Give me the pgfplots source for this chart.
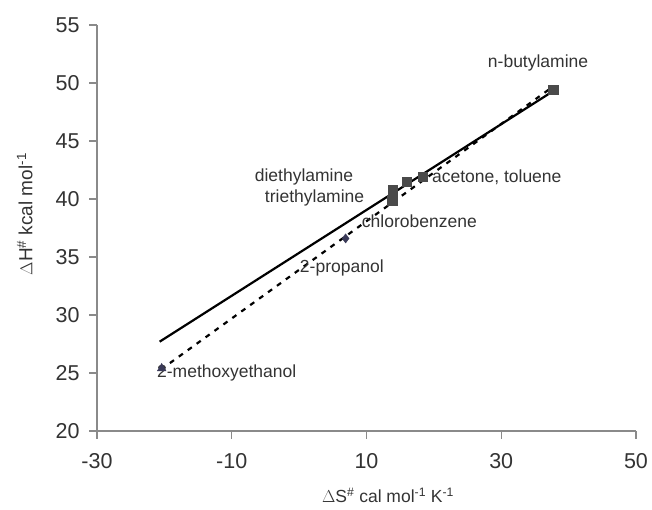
\documentclass[border=0pt]{standalone}
\usepackage{fontspec}
\setmainfont{Liberation Sans}
\usepackage{pgfplots}
\pgfplotsset{compat=1.18}
\definecolor{axgray}{HTML}{8A8A8A}
\definecolor{sqgray}{HTML}{4A4A4A}
\definecolor{dmd}{HTML}{3A3A58}
\definecolor{txt}{HTML}{333333}
\begin{document}
\begin{tikzpicture}[x=1pt,y=1pt]
\useasboundingbox (0,0) rectangle (652,510);
\begin{axis}[
  at={(97pt,79pt)}, anchor=south west,
  scale only axis, width=539pt, height=406pt,
  xmin=-30, xmax=50, ymin=20, ymax=55,
  axis lines=left, axis line style={-, axgray, line width=1.3pt},
  separate axis lines,
  xtick={-30,-10,10,30,50}, ytick={20,25,...,55},
  tick align=outside, major tick length=8pt,
  tick style={axgray, line width=1.2pt},
  /pgf/number format/assume math mode=true,
  ticklabel style={font=\fontsize{21.5}{21.5}\selectfont, text=txt},
  xticklabel style={yshift=-11pt},
  yticklabel style={xshift=-6pt},
  xlabel={$\Delta$S\textsuperscript{\#} cal mol\textsuperscript{-1} K\textsuperscript{-1}},
  ylabel={$\Delta$H\textsuperscript{\#} kcal mol\textsuperscript{-1}},
  xlabel style={font=\fontsize{17.5}{17.5}\selectfont, text=txt, at={(axis description cs:0.54,-0.158)}, anchor=center},
  ylabel style={font=\fontsize{19}{19}\selectfont, text=txt, at={(axis description cs:-0.134,0.534)}, anchor=center, rotate=0},
  clip=false,
]
% trend lines
\addplot[black, line width=2.2pt, no marks] coordinates {(-20.7,27.7) (37.7,49.3)};
\addplot[black, line width=2.2pt, dash pattern=on 5pt off 6pt, no marks] coordinates {(-20.5,25.3) (37.7,49.7)};
% data points
\addplot[only marks, mark=square*, mark size=4.6pt, color=sqgray] coordinates {
  (13.8,39.9) (13.9,40.8) (16.0,41.5) (18.4,41.9) (37.7,49.4)};
\addplot[only marks, mark=diamond*, mark size=4.6pt, color=dmd] coordinates {(6.9,36.6)};
\addplot[only marks, mark=triangle*, mark size=5pt, color=dmd] coordinates {(-20.4,25.4)};
% labels
\begin{scope}[every node/.style={font=\fontsize{17.5}{17.5}\selectfont, text=txt, anchor=west, inner sep=0pt}]
\node at (axis cs:28.0,51.7) {n-butylamine};
\node at (axis cs:-6.6,41.9) {diethylamine};
\node at (axis cs:-5.1,40.1) {triethylamine};
\node at (axis cs:19.7,41.9) {acetone, toluene};
\node at (axis cs:9.3,38.1) {chlorobenzene};
\node at (axis cs:0.1,34.05) {2-propanol};
\node at (axis cs:-21.1,25.0) {2-methoxyethanol};
\end{scope}
\end{axis}
\end{tikzpicture}
\end{document}
